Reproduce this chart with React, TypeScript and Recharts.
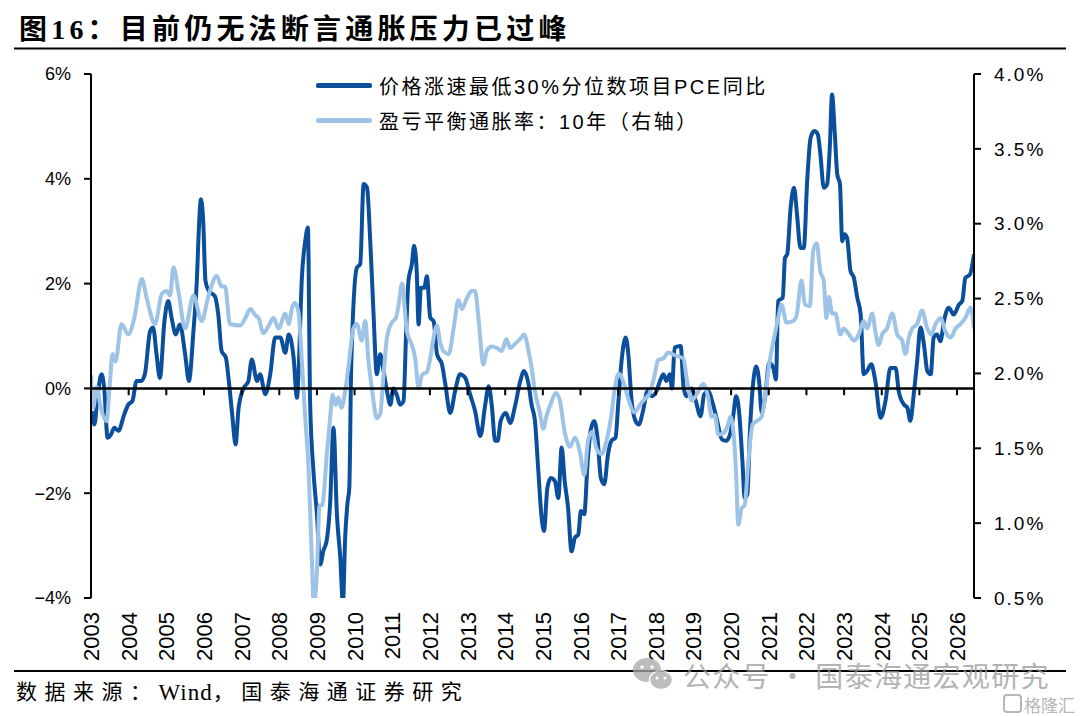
import React from "react";
import { LineChart, Line, XAxis, YAxis, ReferenceLine, Legend } from "recharts";

// 价格涨速最低30%分位数项目PCE同比 (left axis, %)
const coreDates = [
  2003.02, 2003.09, 2003.18, 2003.28, 2003.35, 2003.44, 2003.53, 2003.62, 2003.73, 2003.88,
  2003.99, 2004.1, 2004.21, 2004.33, 2004.43, 2004.57, 2004.65, 2004.74, 2004.83, 2004.95,
  2005.05, 2005.14, 2005.25, 2005.36, 2005.5, 2005.6, 2005.72, 2005.81, 2005.87, 2005.92,
  2005.98, 2006.04, 2006.13, 2006.29, 2006.38, 2006.47, 2006.58, 2006.66, 2006.75, 2006.84,
  2006.92, 2007.05, 2007.18, 2007.27, 2007.41, 2007.49, 2007.63, 2007.76, 2007.89, 2008.03,
  2008.16, 2008.25, 2008.38, 2008.47, 2008.51, 2008.6, 2008.69, 2008.76, 2008.82, 2008.91,
  2009.0, 2009.09, 2009.17, 2009.26, 2009.35, 2009.44, 2009.53, 2009.62, 2009.69, 2009.75,
  2009.81, 2009.86, 2009.91, 2010.06, 2010.15, 2010.24, 2010.33, 2010.42, 2010.5, 2010.59,
  2010.68, 2010.77, 2010.86, 2010.95, 2011.03, 2011.12, 2011.21, 2011.3, 2011.37, 2011.43,
  2011.52, 2011.58, 2011.65, 2011.7, 2011.76, 2011.85, 2011.92, 2012.01, 2012.1, 2012.19,
  2012.32, 2012.41, 2012.54, 2012.67, 2012.8, 2012.94, 2013.07, 2013.2, 2013.34, 2013.47,
  2013.56, 2013.65, 2013.73, 2013.8, 2013.88, 2014.02, 2014.13, 2014.27, 2014.4, 2014.5,
  2014.62, 2014.7, 2014.79, 2014.88, 2014.96, 2015.03, 2015.12, 2015.21, 2015.32, 2015.41,
  2015.5, 2015.58, 2015.67, 2015.76, 2015.85, 2015.94, 2016.01, 2016.1, 2016.19, 2016.27,
  2016.36, 2016.45, 2016.54, 2016.63, 2016.73, 2016.82, 2016.93, 2017.0, 2017.09, 2017.2,
  2017.27, 2017.35, 2017.46, 2017.55, 2017.66, 2017.78, 2017.89, 2018.02, 2018.11, 2018.2,
  2018.28, 2018.37, 2018.43, 2018.5, 2018.66, 2018.74, 2018.82, 2018.95, 2019.06, 2019.19,
  2019.28, 2019.39, 2019.52, 2019.63, 2019.75, 2019.86, 2019.97, 2020.06, 2020.13, 2020.21,
  2020.3, 2020.36, 2020.43, 2020.5, 2020.59, 2020.67, 2020.75, 2020.81, 2020.9, 2021.01,
  2021.12, 2021.19, 2021.25, 2021.37, 2021.43, 2021.49, 2021.58, 2021.67, 2021.75, 2021.84,
  2021.93, 2022.02, 2022.11, 2022.21, 2022.3, 2022.37, 2022.46, 2022.55, 2022.62, 2022.68,
  2022.75, 2022.82, 2022.89, 2022.95, 2023.01, 2023.08, 2023.17, 2023.26, 2023.35, 2023.44,
  2023.52, 2023.61, 2023.72, 2023.83, 2023.97, 2024.1, 2024.23, 2024.37, 2024.45, 2024.59,
  2024.68, 2024.76, 2024.85, 2024.94, 2025.03, 2025.12, 2025.21, 2025.3, 2025.38, 2025.47,
  2025.56, 2025.65, 2025.78, 2025.91, 2026.05, 2026.14, 2026.22, 2026.34, 2026.45,
];
const coreValues = [
  -0.43, -0.69, -0.11, 0.27, 0.01, -0.94, -0.88, -0.75, -0.81, -0.5,
  -0.31, -0.24, 0.14, 0.14, 0.27, 1.09, 1.16, 0.65, 0.2, 1.28,
  1.67, 1.35, 1.03, 1.22, 0.65, 0.14, 1.09, 2.05, 3.13, 3.61,
  3.19, 2.05, 1.86, 1.76, 1.41, 0.71, 0.59, 0.14, -0.5, -1.07,
  -0.37, 0.0, 0.14, 0.55, 0.14, 0.27, -0.11, 0.27, 0.97, 0.97,
  0.68, 1.03, 0.59, -0.18, 0.27, 2.11, 2.81, 3.07, -0.3, -1.6,
  -2.4, -3.36, -3.1, -2.9, -2.2, -0.75, -2.4, -3.23, -4.1, -2.85,
  -2.2, -1.9, 0.4, 2.3, 2.37, 3.9, 3.83, 2.75, 1.48, 0.27,
  0.65, 0.33, -0.05, -0.31, 0.0, -0.12, -0.31, -0.24, 1.09, 2.05,
  2.37, 2.72, 2.24, 1.22, 1.92, 1.92, 2.14, 1.35, 1.28, 0.65,
  0.46, 0.08, -0.47, -0.05, 0.27, 0.2, -0.12, -0.43, -0.91, -0.31,
  0.04, -0.37, -1.0, -1.0, -0.62, -0.47, -0.66, -0.31, 0.14, 0.33,
  0.08, -0.31, -0.62, -1.58, -2.41, -2.72, -1.9, -1.71, -1.77, -2.09,
  -1.13, -1.77, -2.28, -3.11, -2.85, -2.79, -2.34, -2.4, -1.39, -0.81,
  -0.62, -0.94, -1.71, -1.83, -1.26, -1.0, -0.94, -0.31, 0.52, 0.97,
  0.65, -0.18, -0.62, -0.69, -0.43, -0.05, -0.15, -0.05, 0.14, 0.27,
  0.14, 0.27, 0.0, 0.78, 0.81, 0.0, -0.15, 0.0, -0.24, -0.53,
  -0.12, -0.05, -0.31, -0.62, -0.97, -1.0, -0.88, -0.5, -0.15, -0.43,
  -1.39, -2.09, -2.02, -0.81, 0.14, 0.42, 0.08, -0.46, -0.18, 0.49,
  0.39, 0.17, 1.67, 1.73, 2.49, 2.56, 3.45, 3.83, 3.32, 2.68,
  2.68, 3.96, 4.78, 4.91, 4.85, 4.47, 3.83, 3.9, 4.59, 5.61,
  4.91, 4.08, 3.9, 2.81, 2.94, 2.87, 2.24, 2.11, 1.73, 1.41,
  0.27, 0.33, 0.46, 0.14, -0.56, -0.24, 0.39, 0.39, -0.05, -0.31,
  -0.37, -0.62, -0.11, 0.52, 1.16, 0.84, 0.33, 0.27, 0.97, 1.03,
  0.9, 1.28, 1.54, 1.41, 1.6, 1.67, 2.11, 2.17, 2.56,
];

// 盈亏平衡通胀率：10年 (right axis, %)
const beiDates = [
  2003.0, 2003.06, 2003.15, 2003.26, 2003.41, 2003.5, 2003.57, 2003.65, 2003.81, 2003.99,
  2004.15, 2004.35, 2004.48, 2004.7, 2004.88, 2005.01, 2005.1, 2005.19, 2005.32, 2005.5,
  2005.72, 2005.94, 2006.12, 2006.34, 2006.47, 2006.56, 2006.69, 2006.96, 2007.1, 2007.23,
  2007.36, 2007.45, 2007.58, 2007.72, 2007.85, 2007.98, 2008.16, 2008.25, 2008.34, 2008.42,
  2008.51, 2008.6, 2008.69, 2008.78, 2008.86, 2008.92, 2009.0, 2009.07, 2009.14, 2009.26,
  2009.35, 2009.42, 2009.5, 2009.57, 2009.65, 2009.75, 2009.84, 2009.97, 2010.06, 2010.19,
  2010.28, 2010.37, 2010.46, 2010.59, 2010.68, 2010.77, 2010.86, 2010.99, 2011.1, 2011.17,
  2011.26, 2011.39, 2011.52, 2011.61, 2011.7, 2011.79, 2011.92, 2012.01, 2012.1, 2012.19,
  2012.27, 2012.36, 2012.5, 2012.63, 2012.76, 2012.85, 2012.98, 2013.11, 2013.2, 2013.29,
  2013.42, 2013.51, 2013.65, 2013.78, 2013.91, 2014.03, 2014.13, 2014.27, 2014.4, 2014.5,
  2014.62, 2014.7, 2014.79, 2014.92, 2015.01, 2015.1, 2015.23, 2015.34, 2015.45, 2015.58,
  2015.72, 2015.85, 2015.98, 2016.1, 2016.2, 2016.31, 2016.42, 2016.56, 2016.69, 2016.82,
  2016.91, 2017.02, 2017.13, 2017.27, 2017.43, 2017.58, 2017.71, 2017.84, 2017.97, 2018.06,
  2018.2, 2018.33, 2018.51, 2018.73, 2018.83, 2018.95, 2019.08, 2019.26, 2019.39, 2019.48,
  2019.57, 2019.66, 2019.79, 2019.92, 2019.98, 2020.06, 2020.13, 2020.19, 2020.28, 2020.36,
  2020.45, 2020.57, 2020.67, 2020.81, 2020.92, 2021.01, 2021.12, 2021.25, 2021.34, 2021.47,
  2021.65, 2021.74, 2021.87, 2021.96, 2022.09, 2022.18, 2022.27, 2022.37, 2022.46, 2022.53,
  2022.6, 2022.68, 2022.77, 2022.9, 2022.99, 2023.13, 2023.26, 2023.39, 2023.52, 2023.61,
  2023.75, 2023.83, 2023.92, 2024.01, 2024.14, 2024.28, 2024.41, 2024.54, 2024.63, 2024.72,
  2024.81, 2024.94, 2025.07, 2025.21, 2025.31, 2025.43, 2025.56, 2025.69, 2025.83, 2025.96,
  2026.09, 2026.22, 2026.36, 2026.45,
];
const beiValues = [
  1.99, 1.77, 1.91, 1.77, 1.68, 1.93, 2.13, 2.08, 2.33, 2.26,
  2.37, 2.63, 2.5, 2.33, 2.53, 2.55, 2.52, 2.71, 2.55, 2.3,
  2.52, 2.35, 2.52, 2.65, 2.58, 2.58, 2.33, 2.32, 2.37, 2.43,
  2.39, 2.37, 2.27, 2.32, 2.37, 2.3, 2.4, 2.33, 2.44, 2.47,
  2.41, 2.08, 1.7, 1.35, 0.8, 0.45, 0.68, 1.12, 1.12, 1.45,
  1.7, 1.86, 1.79, 1.84, 1.77, 1.88, 2.05, 2.3, 2.33, 2.22,
  2.35, 2.08, 1.9, 1.7, 1.73, 1.99, 2.24, 2.34, 2.37, 2.46,
  2.6, 2.28, 2.19, 2.1, 1.9, 1.99, 2.01, 2.1, 2.24, 2.32,
  2.21, 2.15, 2.13, 2.3, 2.49, 2.43, 2.5, 2.55, 2.55, 2.37,
  2.06, 2.15, 2.18, 2.17, 2.15, 2.23, 2.17, 2.2, 2.23, 2.26,
  2.15, 2.04, 1.88, 1.74, 1.63, 1.72, 1.81, 1.87, 1.82, 1.61,
  1.51, 1.57, 1.48, 1.32, 1.55, 1.61, 1.5, 1.46, 1.55, 1.72,
  1.9, 2.0, 1.95, 1.83, 1.74, 1.79, 1.83, 1.87, 1.99, 2.09,
  2.1, 2.14, 2.12, 2.1, 1.95, 1.82, 1.86, 1.93, 1.84, 1.71,
  1.72, 1.59, 1.6, 1.66, 1.71, 1.61, 1.34, 0.99, 1.1, 1.12,
  1.39, 1.66, 1.68, 1.71, 1.88, 2.06, 2.21, 2.37, 2.46, 2.34,
  2.35, 2.39, 2.62, 2.46, 2.45, 2.82, 2.87, 2.68, 2.62, 2.37,
  2.51, 2.4, 2.4, 2.26, 2.3, 2.26, 2.22, 2.26, 2.35, 2.3,
  2.4, 2.28, 2.19, 2.26, 2.3, 2.4, 2.26, 2.22, 2.13, 2.24,
  2.3, 2.33, 2.42, 2.3, 2.26, 2.33, 2.37, 2.28, 2.24, 2.3,
  2.33, 2.37, 2.44, 2.3,
];

const yearTicks = [
  2003, 2004, 2005, 2006, 2007, 2008, 2009, 2010, 2011, 2012, 2013, 2014,
  2015, 2016, 2017, 2018, 2019, 2020, 2021, 2022, 2023, 2024, 2025, 2026,
];
const leftTicks = [-4, -2, 0, 2, 4, 6];
const rightTicks = [0.5, 1.0, 1.5, 2.0, 2.5, 3.0, 3.5, 4.0];

const coreName = "价格涨速最低30%分位数项目PCE同比";
const beiName = "盈亏平衡通胀率：10年（右轴）";

const coreSeries = coreDates.map((t, i) => ({ t, v: coreValues[i] }));
const beiSeries = beiDates.map((t, i) => ({ t, v: beiValues[i] }));

const DARK = "#0B4F9C";
const LIGHT = "#9DC3E6";
const SANS = "'Liberation Sans', Arial, 'Noto Sans CJK SC', sans-serif";
const CJK = "'Noto Sans CJK SC', sans-serif";
const SERIF_CJK = "'Liberation Serif', 'Noto Sans CJK SC', serif";

function YearTick(props: any) {
  const { x, y, payload } = props;
  return (
    <text
      transform={`translate(${x + 8},${y + 14}) rotate(-90)`}
      textAnchor="end"
      fontSize={22}
      fontFamily={SANS}
      fill="#000"
    >
      {payload.value}
    </text>
  );
}

function renderLegend(props: any) {
  const { payload } = props;
  return (
    <div>
      {(payload || []).map((entry: any) => (
        <div
          key={entry.value}
          style={{ display: "flex", alignItems: "center", height: 35 }}
        >
          <span
            style={{
              display: "inline-block",
              width: 56,
              height: 5,
              borderRadius: 2,
              background: entry.color,
              marginRight: 7,
            }}
          />
          <span
            style={{
              fontSize: 20,
              letterSpacing: 2.5,
              fontFamily: SANS,
              color: "#000",
              whiteSpace: "nowrap",
            }}
          >
            {entry.value}
          </span>
        </div>
      ))}
    </div>
  );
}

export default function App() {
  return (
    <div
      style={{
        position: "absolute",
        left: 0,
        top: 0,
        width: 1080,
        height: 716,
        background: "#fff",
        overflow: "hidden",
      }}
    >
      <div style={{ position: "absolute", left: 0, top: 0 }}>
        <LineChart
          width={1080}
          height={716}
          margin={{ top: 74, right: 26, bottom: 48, left: 31 }}
        >
          <XAxis
            type="number"
            dataKey="t"
            domain={[2003, 2026.45]}
            ticks={yearTicks}
            interval={0}
            allowDataOverflow
            axisLine={false}
            tickLine={false}
            tickSize={0}
            tickMargin={0}
            height={70}
            tick={<YearTick />}
          />
          <YAxis
            yAxisId="left"
            domain={[-4, 6]}
            ticks={leftTicks}
            allowDataOverflow
            width={60}
            axisLine={{ stroke: "#000", strokeWidth: 2 }}
            tickLine={{ stroke: "#000", strokeWidth: 2 }}
            tickSize={7}
            tickMargin={13}
            tick={{ fill: "#000", fontSize: 18, fontFamily: SANS }}
            tickFormatter={(v: number) => `${v < 0 ? "−" : ""}${Math.abs(v)}%`}
          />
          <YAxis
            yAxisId="right"
            orientation="right"
            domain={[0.5, 4.0]}
            ticks={rightTicks}
            allowDataOverflow
            width={80}
            axisLine={{ stroke: "#000", strokeWidth: 2 }}
            tickLine={{ stroke: "#000", strokeWidth: 2 }}
            tickSize={7}
            tickMargin={13}
            tick={{ fill: "#000", fontSize: 19, fontFamily: SANS, letterSpacing: 2 }}
            tickFormatter={(v: number) => `${v.toFixed(1)}%`}
          />
          <Legend
            layout="vertical"
            align="center"
            verticalAlign="middle"
            content={renderLegend}
            wrapperStyle={{ left: 316, top: 68, width: "auto" }}
          />
          <Line
            yAxisId="left"
            data={coreSeries}
            dataKey="v"
            name={coreName}
            type="monotone"
            stroke={DARK}
            strokeWidth={4}
            dot={false}
            activeDot={false}
            isAnimationActive={false}
          />
          <Line
            yAxisId="right"
            data={beiSeries}
            dataKey="v"
            name={beiName}
            type="monotone"
            stroke={LIGHT}
            strokeWidth={4}
            dot={false}
            activeDot={false}
            isAnimationActive={false}
          />
          <ReferenceLine yAxisId="left" y={0} stroke="#000" strokeWidth={2.5} />
          {yearTicks.slice(1).map((yr) => (
            <ReferenceLine
              key={yr}
              yAxisId="left"
              segment={[
                { x: yr, y: 0 },
                { x: yr, y: -0.13 },
              ]}
              stroke="#000"
              strokeWidth={2}
            />
          ))}
        </LineChart>
      </div>

      <svg
        width={1080}
        height={716}
        style={{ position: "absolute", left: 0, top: 0, pointerEvents: "none" }}
      >
        <text
          x={19}
          y={29}
          dominantBaseline="central"
          fontSize={28}
          fontWeight={700}
          letterSpacing={4.2}
          fontFamily={SERIF_CJK}
          fill="#000"
        >
          图16：目前仍无法断言通胀压力已过峰
        </text>
        <line x1={14} x2={1066} y1={48.5} y2={48.5} stroke="#000" strokeWidth={2} />
        <line x1={14} x2={1066} y1={671} y2={671} stroke="#000" strokeWidth={2} />
        <text
          x={16}
          y={692}
          dominantBaseline="central"
          fontSize={21}
          fontFamily={SERIF_CJK}
          fill="#000"
        >
          <tspan letterSpacing={7.5}>数据来源：</tspan>
          <tspan fontSize={23} letterSpacing={1}>Wind</tspan>
          <tspan letterSpacing={7.5}>，国泰海通证券研究</tspan>
        </text>

        <g opacity={0.75}>
          <ellipse cx={647} cy={670} rx={14} ry={12} fill="#a8a8a8" />
          <ellipse cx={661} cy={680} rx={11.5} ry={9.5} fill="#a8a8a8" stroke="#fff" strokeWidth={1.5} />
          <circle cx={642} cy={667} r={1.8} fill="#fff" />
          <circle cx={652} cy={667} r={1.8} fill="#fff" />
          <circle cx={657} cy={678} r={1.5} fill="#fff" />
          <circle cx={665} cy={678} r={1.5} fill="#fff" />
          <text
            x={683}
            y={675}
            dominantBaseline="central"
            fontSize={28}
            letterSpacing={1.3}
            fontFamily={CJK}
            fill="#9a9a9a"
          >
            公众号 · 国泰海通宏观研究
          </text>
        </g>
        <g opacity={0.7}>
          <rect x={1004} y={695} width={17} height={17} rx={3} fill="none" stroke="#9a9a9a" strokeWidth={2} />
          <text x={1024} y={704} dominantBaseline="central" fontSize={17} fontFamily={CJK} fill="#9a9a9a">
            格隆汇
          </text>
        </g>
      </svg>
    </div>
  );
}
